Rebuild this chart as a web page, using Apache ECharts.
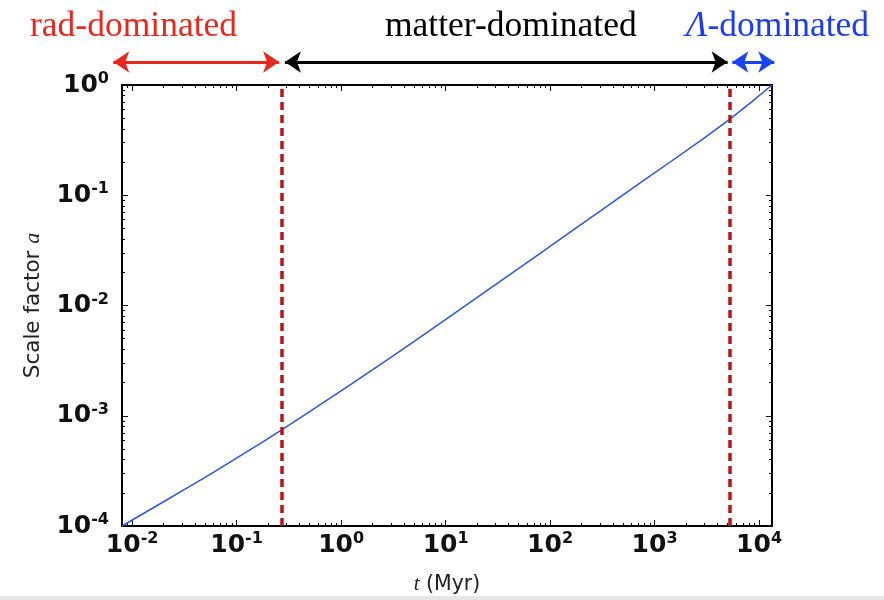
<!DOCTYPE html>
<html>
<head>
<meta charset="utf-8">
<script src="https://cdn.jsdelivr.net/npm/echarts@6/dist/echarts.min.js"></script>
<style>
  html, body { margin: 0; padding: 0; background: #fff; }
  #chart { width: 884px; height: 600px; }
</style>
</head>
<body>
<div id="chart"></div>
<script>
// cosmic time (Myr) and scale factor
const tMyr = [0.008, 0.02, 0.035, 0.06, 0.113, 0.18, 0.27, 0.5, 0.77, 1.2, 2.9, 5, 10.8, 30, 78.5, 152, 341, 700, 1480, 3000, 5300, 8500, 13300]
const scaleFactor = [1.0e-4, 1.66e-4, 2.26e-4, 3.07e-4, 4.43e-4, 5.83e-4, 7.43e-4, 1.09e-3, 1.43e-3, 1.89e-3, 3.31e-3, 4.72e-3, 7.85e-3, 0.01545, 0.0293, 0.0455, 0.0779, 0.1259, 0.2066, 0.3316, 0.4935, 0.7036, 1.0]

// era boundaries (Myr) - dashed lines
const eraBoundaries = [0.27, 5300]

// era arrows (Myr): [from, to]
const radSpan = [0.0066, 0.255]
const matterSpan = [0.29, 5000]
const lambdaSpan = [5550, 14000]

const xTickExponents = [-2, -1, 0, 1, 2, 3, 4]
const yTickExponents = [-4, -3, -2, -1, 0]
const xRange = [0.008, 13300]
const yRange = [1e-4, 1]

const log10 = Math.log10
const xMin = log10(xRange[0]), xMax = log10(xRange[1])
const yMin = log10(yRange[0]), yMax = log10(yRange[1])

function minorTicks(lo, hi) {
  const out = []
  for (let k = Math.floor(lo) - 1; k <= Math.ceil(hi); k++) {
    for (let m = 2; m <= 9; m++) {
      const v = k + log10(m)
      if (v > lo && v < hi) out.push(v)
    }
  }
  return out
}

const xMinor = minorTicks(xMin, xMax)
const yMinor = minorTicks(yMin, yMax)

const labelRich = {
  b: { fontFamily: "DejaVu Sans", fontWeight: "bold", fontSize: 25, color: "#111", lineHeight: 28 },
  s: { fontFamily: "DejaVu Sans", fontWeight: "bold", fontSize: 16, color: "#111", verticalAlign: "top", lineHeight: 16 },
}
const expLabel = (v) => "{b|10}{s|" + Math.round(v) + "}"

const chartDom = document.getElementById("chart")
const myChart = echarts.init(chartDom, null, { width: 884, height: 600 })

const gridBox = { left: 122, right: 112, top: 85, bottom: 70 }

function makeXAxis(position, values, len, labels) {
  return {
    type: "value", gridIndex: 0, position: position, min: xMin, max: xMax,
    axisLine: { show: labels !== undefined, onZero: false, lineStyle: { color: "#000", width: 2 } },
    axisTick: { show: true, inside: true, length: len, customValues: values, lineStyle: { color: "#000", width: 1 } },
    axisLabel: labels ? { show: true, customValues: xTickExponents, formatter: expLabel, rich: labelRich, margin: 5 } : { show: false },
    splitLine: { show: false },
  }
}
function makeYAxis(position, values, len, labels) {
  return {
    type: "value", gridIndex: 0, position: position, min: yMin, max: yMax,
    axisLine: { show: labels !== undefined, onZero: false, lineStyle: { color: "#000", width: 2 } },
    axisTick: { show: true, inside: true, length: len, customValues: values, lineStyle: { color: "#000", width: 1 } },
    axisLabel: labels ? { show: true, customValues: yTickExponents, formatter: expLabel, rich: labelRich, margin: 13 } : { show: false },
    splitLine: { show: false },
  }
}

const xBottom = makeXAxis("bottom", xTickExponents, 6, true)
xBottom.name = "{i|t} (Myr)"
xBottom.nameLocation = "middle"
xBottom.nameGap = 48
xBottom.nameTextStyle = {
  fontFamily: "DejaVu Sans", fontSize: 20.5, color: "#222",
  rich: {
    i: { fontFamily: "Liberation Serif", fontStyle: "italic", fontSize: 21, color: "#222" },
  },
}
const xTop = makeXAxis("top", xTickExponents, 6, false)
xTop.axisLine.show = true

const yLeft = makeYAxis("left", yTickExponents, 6, true)
yLeft.name = "Scale factor {i|a}"
yLeft.nameLocation = "middle"
yLeft.nameGap = 78
yLeft.nameTextStyle = {
  fontFamily: "DejaVu Sans", fontSize: 21.5, color: "#222",
  rich: {
    i: { fontFamily: "Liberation Serif", fontStyle: "italic", fontSize: 22, color: "#222" },
  },
}
const yRight = makeYAxis("right", yTickExponents, 6, false)
yRight.axisLine.show = true

const arrowSeries = (span, color) => ({
  type: "lines",
  coordinateSystem: "cartesian2d",
  xAxisIndex: 4,
  yAxisIndex: 4,
  clip: false,
  symbol: ["arrow", "arrow"],
  symbolSize: [16, 16],
  silent: true,
  lineStyle: { color: color, width: 3, opacity: 1 },
  data: [{ coords: [[log10(span[0]), 0.5], [log10(span[1]), 0.5]] }],
  z: 5,
})

const option = {
  animation: false,
  backgroundColor: "#fff",
  grid: [
    Object.assign({ containLabel: false }, gridBox),
    { left: gridBox.left, right: gridBox.right, top: 55, height: 14 },
  ],
  xAxis: [
    xBottom,
    makeXAxis("bottom", xMinor, 3),
    xTop,
    makeXAxis("top", xMinor, 3),
    { type: "value", gridIndex: 1, min: xMin, max: xMax, show: false },
  ],
  yAxis: [
    yLeft,
    makeYAxis("left", yMinor, 3),
    yRight,
    makeYAxis("right", yMinor, 3),
    { type: "value", gridIndex: 1, min: 0, max: 1, show: false },
  ],
  series: [
    {
      name: "Scale factor",
      type: "line",
      xAxisIndex: 0,
      yAxisIndex: 0,
      showSymbol: false,
      smooth: false,
      data: tMyr.map((t, i) => [log10(t), log10(scaleFactor[i])]),
      lineStyle: { color: "#2f52ea", width: 1.5 },
      z: 3,
      markLine: {
        silent: true,
        symbol: ["none", "none"],
        label: { show: false },
        lineStyle: { color: "#b51616", width: 3.5, type: [8, 5] },
        data: eraBoundaries.map((t) => ({ xAxis: log10(t) })),
        z: 4,
      },
    },
    arrowSeries(radSpan, "#e8281c"),
    arrowSeries(matterSpan, "#000"),
    arrowSeries(lambdaSpan, "#1a44f0"),
  ],
  graphic: [
    {
      type: "text", left: 30, top: 9,
      style: { text: "rad-dominated", fill: "#e8281c", font: "35.5px 'Liberation Serif'" },
    },
    {
      type: "text", left: 385, top: 9,
      style: { text: "matter-dominated", fill: "#000", font: "35.5px 'Liberation Serif'" },
    },
    {
      type: "text", left: 686, top: 9,
      style: {
        text: "{g|Λ}{n|-dominated}",
        rich: {
          g: { fontFamily: "Liberation Serif", fontStyle: "italic", fontSize: 35.5, fill: "#1a3cf0" },
          n: { fontFamily: "Liberation Serif", fontSize: 35.5, fill: "#1a3cf0" },
        },
      },
    },
    {
      type: "rect", shape: { x: 0, y: 596, width: 884, height: 4 },
      style: { fill: "#e6e6e6" }, silent: true,
    },
  ],
}

myChart.setOption(option)
</script>
</body>
</html>
